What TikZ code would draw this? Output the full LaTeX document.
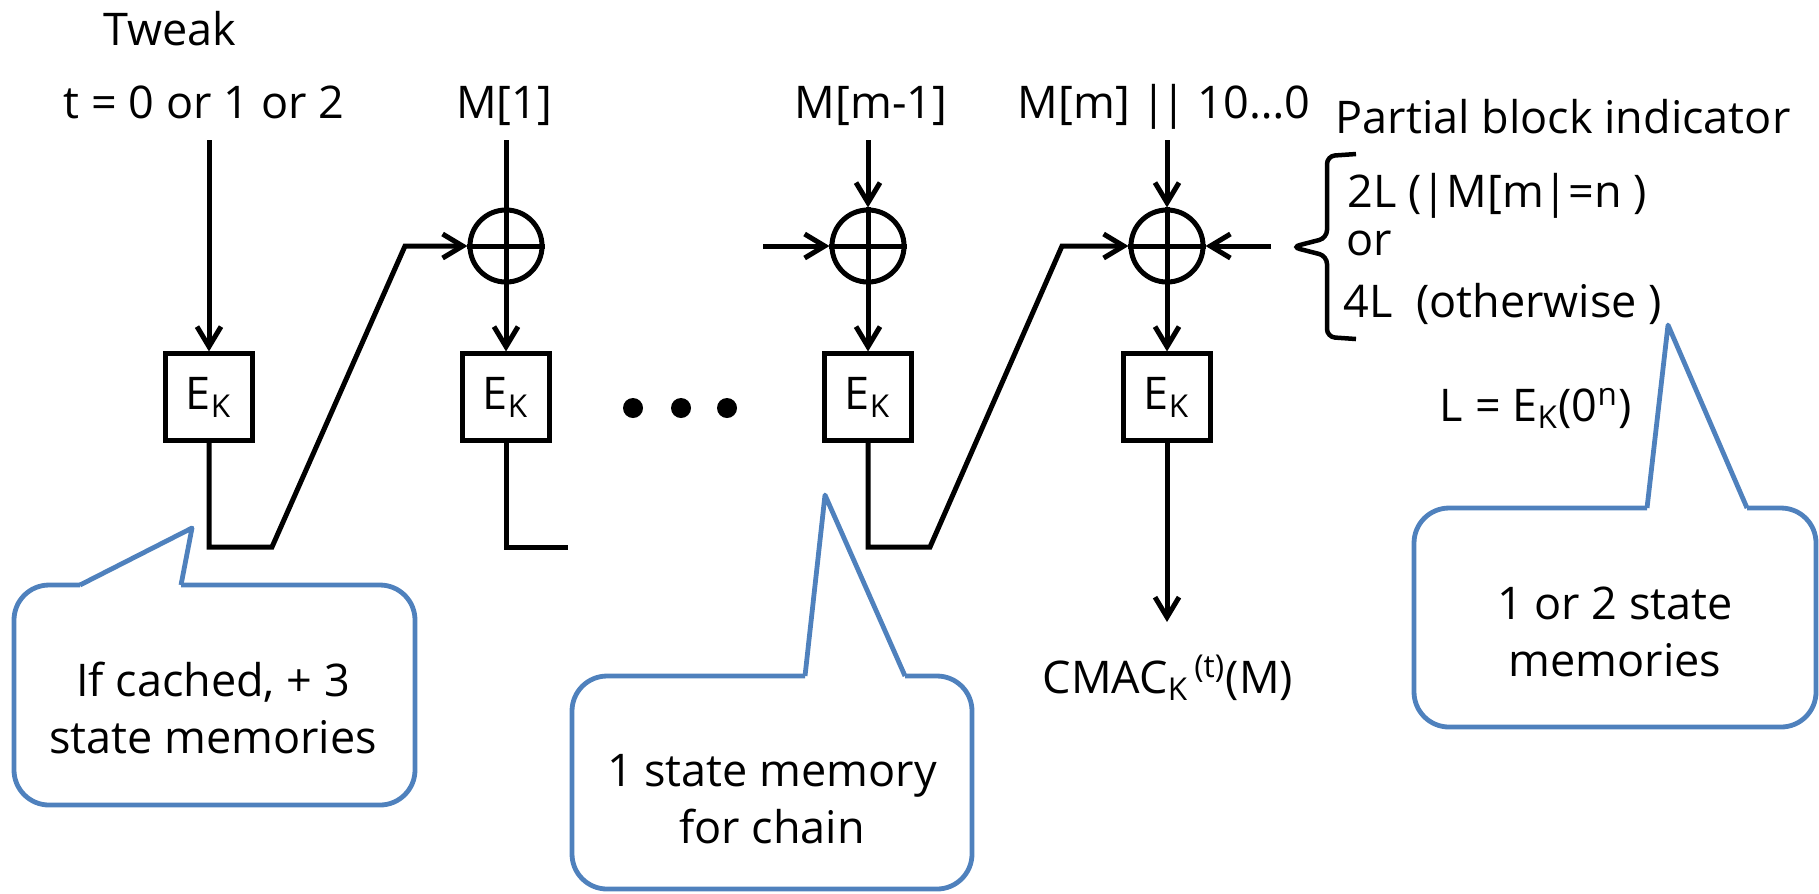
\documentclass[tikz,border=0pt]{standalone}
\usepackage{fontspec}
\setmainfont{Open Sans}
\usetikzlibrary{arrows.meta, positioning, calc}
\definecolor{CallBlue}{RGB}{79, 129, 189}
\newcommand{\lbl}{\fontsize{12.8}{16}\selectfont}

\begin{document}
\begin{tikzpicture}[
  x=0.01cm, y=-0.01cm,
  txt/.style={font=\lbl, inner sep=0pt, anchor=base},
  ek/.style={draw, line width=0.05cm, minimum width=0.87cm,
             minimum height=0.86cm, inner sep=0pt, font=\lbl},
  xr/.style={circle, draw, line width=0.05cm, minimum size=0.72cm, inner sep=0pt},
  wire/.style={line width=0.05cm},
  arr/.style={wire, -{Straight Barb[length=2mm, width=2.4mm]}},
  bub/.style={draw=CallBlue, line width=0.048cm, line join=round}
]
  \useasboundingbox (0,0) rectangle (1819,893);

  % ---- inputs ----
  \node[txt] (tweak) at (170,45)  {Tweak};
  \node[txt] (tval)  at (204,118) {t = 0 or 1 or 2};
  \node[txt] (m1)    at (504,118) {M[1]};
  \node[txt] (mm1)   at (871,118) {M[m-1]};
  \node[txt] (mm)    at (1164,118) {M[m] |\kern-0.12em| 10…0};
  \node[txt, anchor=base west] (pbi) at (1335,133) {Partial block indicator};

  \coordinate (tw-in)  at (209,140);
  \coordinate (m1-in)  at (506,140);
  \coordinate (mm1-in) at (868,140);
  \coordinate (mm-in)  at (1167,140);

  % ---- xor and block cipher ----
  \node[xr] (x1) at (506,246)  {};
  \node[xr] (x3) at (868,246)  {};
  \node[xr] (x4) at (1167,246) {};
  \foreach \n in {x1,x3,x4}
    \draw[wire] (\n.north) -- (\n.south) (\n.west) -- (\n.east);

  \node[ek] (e1) at (209,397)  {E\textsubscript{K}};
  \node[ek] (e2) at (506,397)  {E\textsubscript{K}};
  \node[ek] (e3) at (868,397)  {E\textsubscript{K}};
  \node[ek] (e4) at (1167,397) {E\textsubscript{K}};

  \draw[arr]  (tw-in) -- (e1);
  \draw[wire] (m1-in) -- (x1);
  \draw[arr]  (mm1-in) -- (x3);
  \draw[arr]  (mm-in) -- (x4);
  \draw[arr] (x1) -- (e2);
  \draw[arr] (x3) -- (e3);
  \draw[arr] (x4) -- (e4);

  % ---- chaining ----
  \coordinate (k1) at (209,547); \coordinate (j1) at (272,547); \coordinate (u1) at (405,246);
  \coordinate (k2) at (506,547); \coordinate (j2) at (568,547);
  \coordinate (k3) at (868,547); \coordinate (j3) at (930,547); \coordinate (u3) at (1062,246);
  \coordinate (c3-in) at (763,246);
  \coordinate (pb-in) at (1271,246);
  \coordinate (e4-out) at (1167,622);
  \draw[arr]  (e1) -- (k1) -- (j1) -- (u1) -- (x1);
  \draw[wire] (e2) -- (k2) -- (j2);
  \draw[arr]  (c3-in) -- (x3);
  \draw[arr]  (e3) -- (k3) -- (j3) -- (u3) -- (x4);
  \draw[arr]  (pb-in) -- (x4);
  \draw[arr]  (e4) -- (e4-out);

  \foreach \dx in {633,681,727}
    \fill (\dx,408) circle[radius=0.1cm];

  \node[txt] (tag) at (1168,693) {CMAC\textsubscript{K}\textsuperscript{\,(t)}(M)};

  % ---- partial block indicator ----
  \draw[line width=0.045cm, rounded corners=0.08cm]
    (1356,154) -- (1327,156) -- (1327,238) -- (1292,247) -- (1327,256) -- (1327,337) -- (1356,339);
  \node[txt, anchor=base west] (pb2)  at (1347,207) {2L (|M[m|=n )};
  \node[txt, anchor=base west] (pbor) at (1346,255) {or};
  \node[txt, anchor=base west] (pb4)  at (1343,317) {4L \ (otherwise )};
  \node[txt] (ldef) at (1536,421) {L = E\textsubscript{K}(0\textsuperscript{n})};

  % ---- callouts ----
  \draw[bub, rounded corners=0.35cm] (181,585) -- (415,585) -- (415,805) -- (14,805) -- (14,585) -- (80,585);
  \draw[bub] (80,585) -- (192,528) -- (181,585);
  \node[txt, align=center] (n1) at (213,753) {If cached, + 3\\state memories};

  \draw[bub, rounded corners=0.35cm] (905,676) -- (972,676) -- (972,889) -- (572,889) -- (572,676) -- (805,676);
  \draw[bub] (805,676) -- (825,495) -- (905,676);
  \node[txt, align=center] (n2) at (772,843) {1 state memory\\for chain};

  \draw[bub, rounded corners=0.35cm] (1747,508) -- (1816,508) -- (1816,727) -- (1414,727) -- (1414,508) -- (1647,508);
  \draw[bub] (1647,508) -- (1668,325) -- (1747,508);
  \node[txt, align=center] (n3) at (1615,676) {1 or 2 state\\memories};
\end{tikzpicture}
\end{document}
